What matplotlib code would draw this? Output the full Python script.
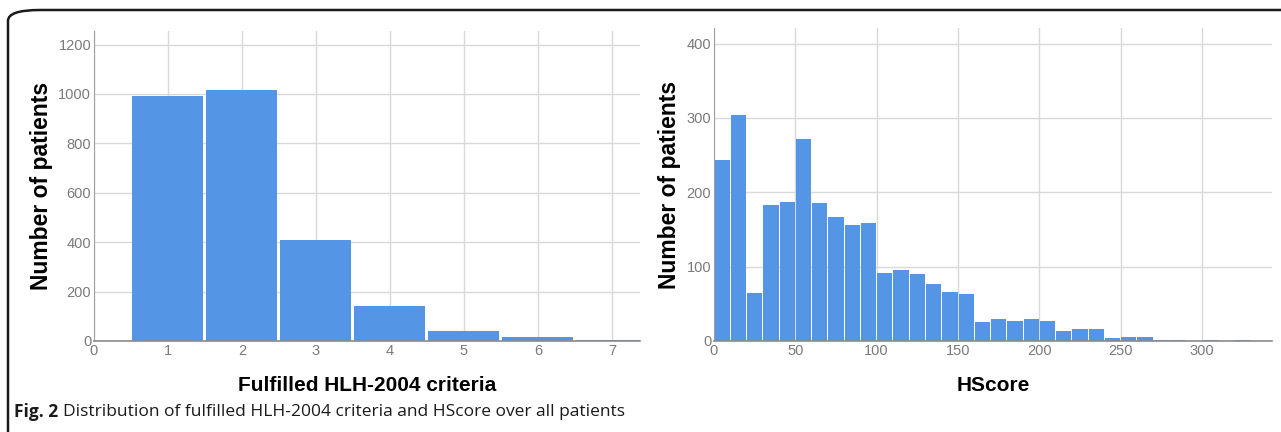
import matplotlib.pyplot as plt
from matplotlib.patches import FancyBboxPatch

# Fulfilled HLH-2004 criteria (left panel)
criteria = [1, 2, 3, 4, 5, 6, 7]
criteria_counts = [993, 1018, 408, 143, 42, 17, 5]

# HScore histogram, 10-point bins from 0 to 330 (right panel)
hscore_bin_starts = list(range(0, 330, 10))
hscore_counts = [244, 304, 64, 183, 187, 272, 185, 167, 156, 159,
                 91, 96, 90, 77, 66, 63, 26, 30, 27, 29,
                 27, 14, 16, 16, 4, 5, 6, 2, 2, 0,
                 2, 0, 2]

left_ticks = [0, 1, 2, 3, 4, 5, 6, 7]
left_yticks = [0, 200, 400, 600, 800, 1000, 1200]
right_ticks = [0, 50, 100, 150, 200, 250, 300]
right_yticks = [0, 100, 200, 300, 400]

BAR = "#5595e5"
GRID = "#d9d9d9"
TICK = "#7a7a7a"

plt.rcParams['font.family'] = ['Liberation Sans', 'DejaVu Sans']

fig = plt.figure(figsize=(12.81, 4.32), dpi=100)

# rounded frame around the figure (right/bottom run off the page)
frame = FancyBboxPatch((8 / 1281, -0.2), 1.2, 1 - 10 / 432 + 0.2,
                       boxstyle="round,pad=0,rounding_size=0.025",
                       transform=fig.transFigure, fill=False,
                       edgecolor="#1a1a1a", linewidth=1.8, clip_on=False)
fig.patches.append(frame)


def style_axes(ax, xticks, yticks):
    ax.set_xticks(xticks)
    ax.set_yticks(yticks)
    ax.grid(True, color=GRID, linewidth=1.0)
    ax.set_axisbelow(True)
    for side in ("top", "right"):
        ax.spines[side].set_visible(False)
    ax.spines["left"].set_color("#a0a0a0")
    ax.spines["bottom"].set_color("#8a8a8a")
    ax.spines["bottom"].set_linewidth(1.2)
    ax.tick_params(length=0, colors=TICK, labelsize=10.5, pad=2)


ax1 = fig.add_axes([94 / 1281, 1 - 341 / 432, 546 / 1281, 310 / 432])
# bars a bit narrower than the slot so the white gaps show
ax1.bar(criteria, criteria_counts, width=0.96, color=BAR, linewidth=0)
ax1.set_xlim(0, 7.38)
ax1.set_ylim(0, 1255)
style_axes(ax1, left_ticks, left_yticks)
ax1.set_xlabel("Fulfilled HLH-2004 criteria", fontsize=15, fontweight="bold",
               labelpad=13)
ax1.set_ylabel("Number of patients", fontsize=16.5, fontweight="bold",
               labelpad=4)

ax2 = fig.add_axes([714 / 1281, 1 - 341 / 432, 558 / 1281, 313 / 432])
ax2.bar([s + 0.3 for s in hscore_bin_starts], hscore_counts, width=9.4,
        align="edge", color=BAR, linewidth=0)
ax2.set_xlim(0, 343)
ax2.set_ylim(0, 421)
style_axes(ax2, right_ticks, right_yticks)
ax2.set_xlabel("HScore", fontsize=15, fontweight="bold", labelpad=13)
ax2.set_ylabel("Number of patients", fontsize=16.5, fontweight="bold",
               labelpad=4)

# caption
fig.text(14 / 1281, 1 - 412 / 432, "Fig. 2", fontsize=12.5, fontweight="bold",
         family=["Open Sans", "DejaVu Sans"], va="center", color="#1a1a1a")
fig.text(63 / 1281, 1 - 412 / 432,
         "Distribution of fulfilled HLH-2004 criteria and HScore over all patients",
         fontsize=12.5, family=["Open Sans", "DejaVu Sans"], va="center",
         color="#1a1a1a")

fig.savefig("out.png", dpi=100)
